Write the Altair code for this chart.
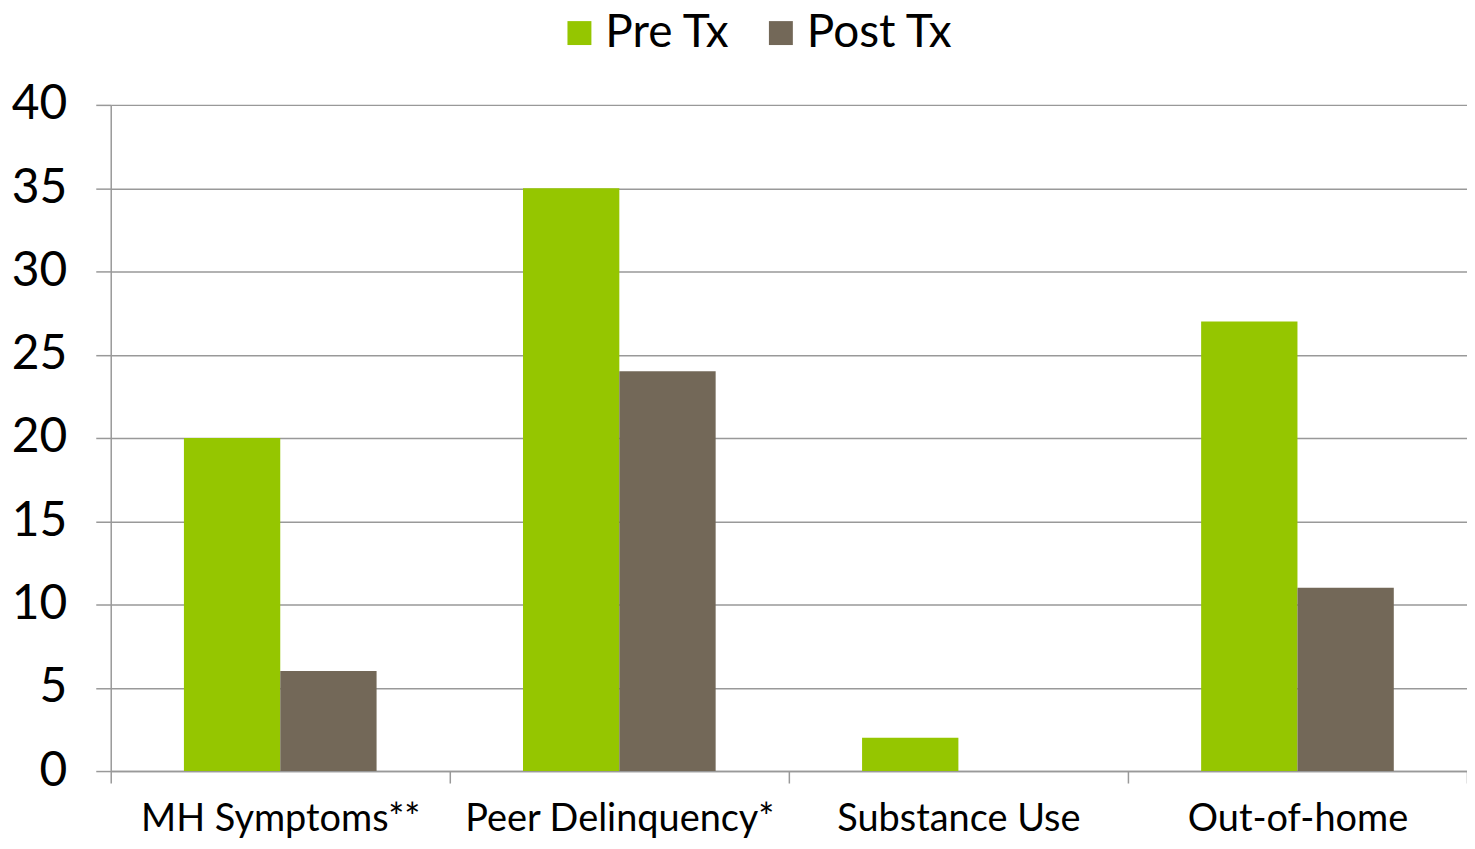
import altair as alt
import pandas as pd

categories = ["MH Symptoms**", "Peer Delinquency*", "Substance Use", "Out-of-home"]
pre_tx = [20, 35, 2, 27]
post_tx = [6, 24, 0, 11]
series = ["Pre Tx", "Post Tx"]
colors = ["#95C600", "#736858"]

rows = []
for c, a, b in zip(categories, pre_tx, post_tx):
    rows.append({"cat": c, "series": "Pre Tx", "value": a})
    rows.append({"cat": c, "series": "Post Tx", "value": b})
df = pd.DataFrame(rows)

FONT = "Lato"

chart = alt.Chart(df).mark_bar().encode(
    x=alt.X("cat:N", sort=categories, title=None,
            scale=alt.Scale(paddingInner=0, paddingOuter=0),
            axis=alt.Axis(labelAngle=0, labelFontSize=38, labelColor="#000000",
                          labelFont=FONT, labelPadding=18, labelLimit=0, tickSize=12,
                          tickBand="extent",
                          tickColor="#999999", tickWidth=1.5, domainColor="#999999",
                          domainWidth=1.5, grid=False)),
    xOffset=alt.XOffset("series:N", sort=series,
                        scale=alt.Scale(paddingInner=0, paddingOuter=0.76)),
    y=alt.Y("value:Q", title=None,
            scale=alt.Scale(domain=[0, 40], nice=False),
            axis=alt.Axis(values=[0, 5, 10, 15, 20, 25, 30, 35, 40], labelFontSize=48,
                          labelFont=FONT, labelColor="#000000", labelPadding=29,
                          tickSize=15, tickColor="#999999", tickWidth=1.5,
                          domainColor="#999999", domainWidth=1.5,
                          gridColor="#999999", gridWidth=1.5)),
    color=alt.Color("series:N", sort=series,
                    scale=alt.Scale(domain=series, range=colors),
                    legend=alt.Legend(title=None, orient="none", direction="horizontal",
                                      legendX=447, legendY=-95, padding=0,
                                      symbolType="square",
                                      symbolSize=576, symbolStrokeWidth=0,
                                      labelFontSize=46, labelFont=FONT,
                                      labelColor="#000000", columnPadding=27,
                                      symbolOffset=0, labelOffset=3)),
).properties(
    width=1360, height=668,
    autosize=alt.AutoSizeParams(type="none"),
    padding={"left": 103, "top": 96, "right": 0, "bottom": 69},
).configure_view(stroke=None).configure_axis(labelFont=FONT)

chart.save("out.html", embed_options={"renderer": "svg", "actions": False})
